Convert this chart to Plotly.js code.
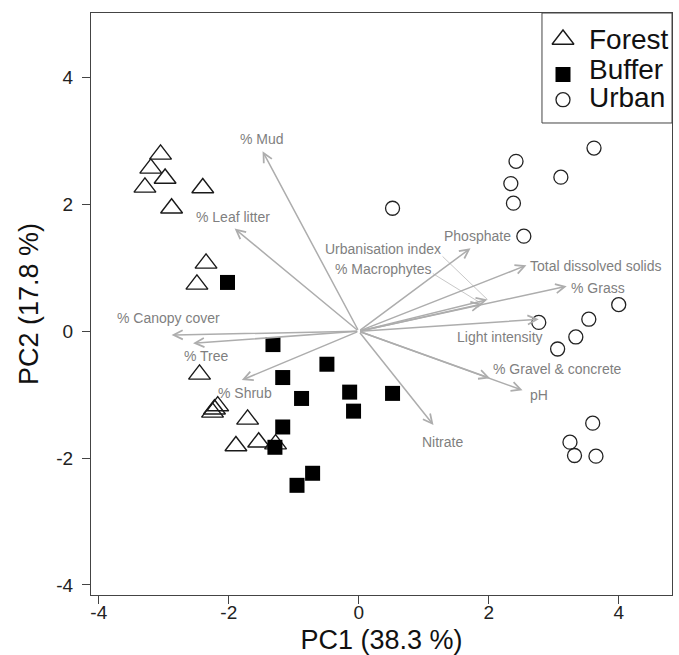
<!DOCTYPE html>
<html><head><meta charset="utf-8">
<script src="https://cdn.plot.ly/plotly-3.0.1.min.js"></script>
<style>html,body{margin:0;padding:0;background:#fff}#chart{width:679px;height:655px}</style>
</head><body><div id="chart"></div>
<script>
// Site scores
var forestX = [-3.05,-3.2,-2.98,-3.29,-2.4,-2.88,-2.35,-2.49,-2.45,-2.17,-2.22,-2.25,-1.71,-1.89,-1.54,-1.28];
var forestY = [2.79,2.57,2.41,2.27,2.26,1.94,1.07,0.74,-0.68,-1.18,-1.23,-1.28,-1.39,-1.81,-1.75,-1.78];
var bufferX = [-2.02,-1.32,-0.49,-1.17,-0.88,-0.14,-0.08,0.52,-1.17,-1.29,-0.71,-0.95];
var bufferY = [0.77,-0.21,-0.52,-0.73,-1.06,-0.96,-1.26,-0.98,-1.51,-1.83,-2.24,-2.43];
var urbanX = [0.52,2.42,2.34,3.11,2.38,3.62,2.54,4.0,2.77,3.54,3.34,3.06,3.6,3.25,3.32,3.65];
var urbanY = [1.94,2.68,2.33,2.43,2.02,2.89,1.5,0.42,0.14,0.19,-0.09,-0.28,-1.45,-1.75,-1.96,-1.97];

// Variable loadings (arrow tips) and label positions
var varNames = ['% Mud','% Leaf litter','% Canopy cover','% Tree','% Shrub','Nitrate','pH','% Gravel & concrete','Light intensity','% Grass','Total dissolved solids','Phosphate','Urbanisation index','% Macrophytes'];
var loadX = [-1.48,-1.91,-2.88,-2.55,-1.8,1.15,2.52,2.02,2.77,3.2,2.58,1.72,1.98,1.9];
var loadY = [2.84,1.62,-0.06,-0.19,-0.77,-1.48,-0.93,-0.74,0.19,0.71,1.04,1.31,0.5,0.43];
var labelX = [-1.49,-1.94,-2.92,-2.35,-1.75,1.29,2.77,3.06,2.17,3.68,3.65,1.83,0.38,0.38];
var labelY = [3.03,1.81,0.21,-0.39,-0.98,-1.74,-1.01,-0.60,-0.09,0.69,1.03,1.50,1.29,0.99];
// Leader lines from labels to tips (Urbanisation index, % Macrophytes)
var leaderIdx = [12,13];
var leaderX = [1.29,1.14];
var leaderY = [1.18,0.91];

var groupNames = ['Forest','Buffer','Urban'];
var tickVals = [-4,-2,0,2,4];
var tickText = ['-4','-2','0','2','4'];
var FONT = 'Arial, "Liberation Sans", sans-serif';

var markerStyles = [
  {symbol:'triangle-up-open', size:19, color:'#1a1a1a', line:{width:1.4}},
  {symbol:'square', size:15, color:'#000000'},
  {symbol:'circle-open', size:14, color:'#222222', line:{width:1.3}}
];
var groupX = [forestX, bufferX, urbanX];
var groupY = [forestY, bufferY, urbanY];

var traces = [];
for (var g = 0; g < 3; g++) {
  traces.push({x: groupX[g], y: groupY[g], type:'scatter', mode:'markers', name: groupNames[g],
    marker: markerStyles[g], showlegend:false, hoverinfo:'skip'});
}

// Hand-drawn legend (R style), placed on an invisible overlay axis spanning the plot area
var legSymX = 0.8124;
var legSymY = [0.9545, 0.8943, 0.851];
var legTxtX = 0.8537;
var legTxtY = [0.9545, 0.9034, 0.8548];
for (var h = 0; h < 3; h++) {
  traces.push({x:[legSymX], y:[legSymY[h]], xaxis:'x2', yaxis:'y2', type:'scatter', mode:'markers',
    marker: markerStyles[h], showlegend:false, hoverinfo:'skip', cliponaxis:false});
}

var annotations = [];
for (var i = 0; i < varNames.length; i++) {
  annotations.push({x: loadX[i], y: loadY[i], xref:'x', yref:'y', ax:0, ay:0, axref:'x', ayref:'y',
    text:'', showarrow:true, arrowhead:5, arrowsize:1.2, arrowwidth:1.5, arrowcolor:'#adadad'});
}
for (var j = 0; j < varNames.length; j++) {
  annotations.push({x: labelX[j], y: labelY[j], xref:'x', yref:'y', text: varNames[j], showarrow:false,
    xanchor:'center', yanchor:'middle', font:{family:FONT, size:14, color:'#7f7f7f'}});
}
for (var t = 0; t < 3; t++) {
  annotations.push({x: legTxtX, y: legTxtY[t], xref:'paper', yref:'paper', text: groupNames[t], showarrow:false,
    xanchor:'left', yanchor:'middle', font:{family:FONT, size:28, color:'#111'}});
}

var shapes = [
  {type:'rect', xref:'paper', yref:'paper', x0:0.7762, x1:1, y0:0.811, y1:1,
   line:{color:'#444', width:1}, fillcolor:'#ffffff', layer:'below'}
];
for (var k = 0; k < leaderIdx.length; k++) {
  shapes.push({type:'line', xref:'x', yref:'y', x0: leaderX[k], y0: leaderY[k],
    x1: loadX[leaderIdx[k]], y1: loadY[leaderIdx[k]], line:{color:'#c8c8c8', width:1}});
}

var axisCommon = {
  tickvals: tickVals, ticktext: tickText, ticks:'outside', ticklen:8, tickcolor:'#444', tickwidth:1,
  showline:true, mirror:true, linecolor:'#444', linewidth:1,
  showgrid:false, zeroline:false,
  tickfont:{family:FONT, size:19, color:'#222'}
};

var layout = {
  width:679, height:655,
  margin:{l:91, r:7, t:13, b:60},
  paper_bgcolor:'#ffffff', plot_bgcolor:'#ffffff',
  font:{family:FONT},
  showlegend:false,
  xaxis: Object.assign({}, axisCommon, {range:[-4.12,4.82], ticklabelstandoff:-8,
    title:{text:'PC1 (38.3 %)', font:{family:FONT, size:27, color:'#111'}, standoff:8}}),
  yaxis: Object.assign({}, axisCommon, {range:[-4.16,5.02], ticklabelstandoff:5,
    title:{text:'PC2 (17.8 %)', font:{family:FONT, size:27, color:'#111'}, standoff:9}}),
  xaxis2: {overlaying:'x', range:[0,1], visible:false, fixedrange:true},
  yaxis2: {overlaying:'y', range:[0,1], visible:false, fixedrange:true},
  annotations: annotations,
  shapes: shapes
};

Plotly.newPlot('chart', traces, layout, {displayModeBar:false, staticPlot:true});
</script></body></html>
